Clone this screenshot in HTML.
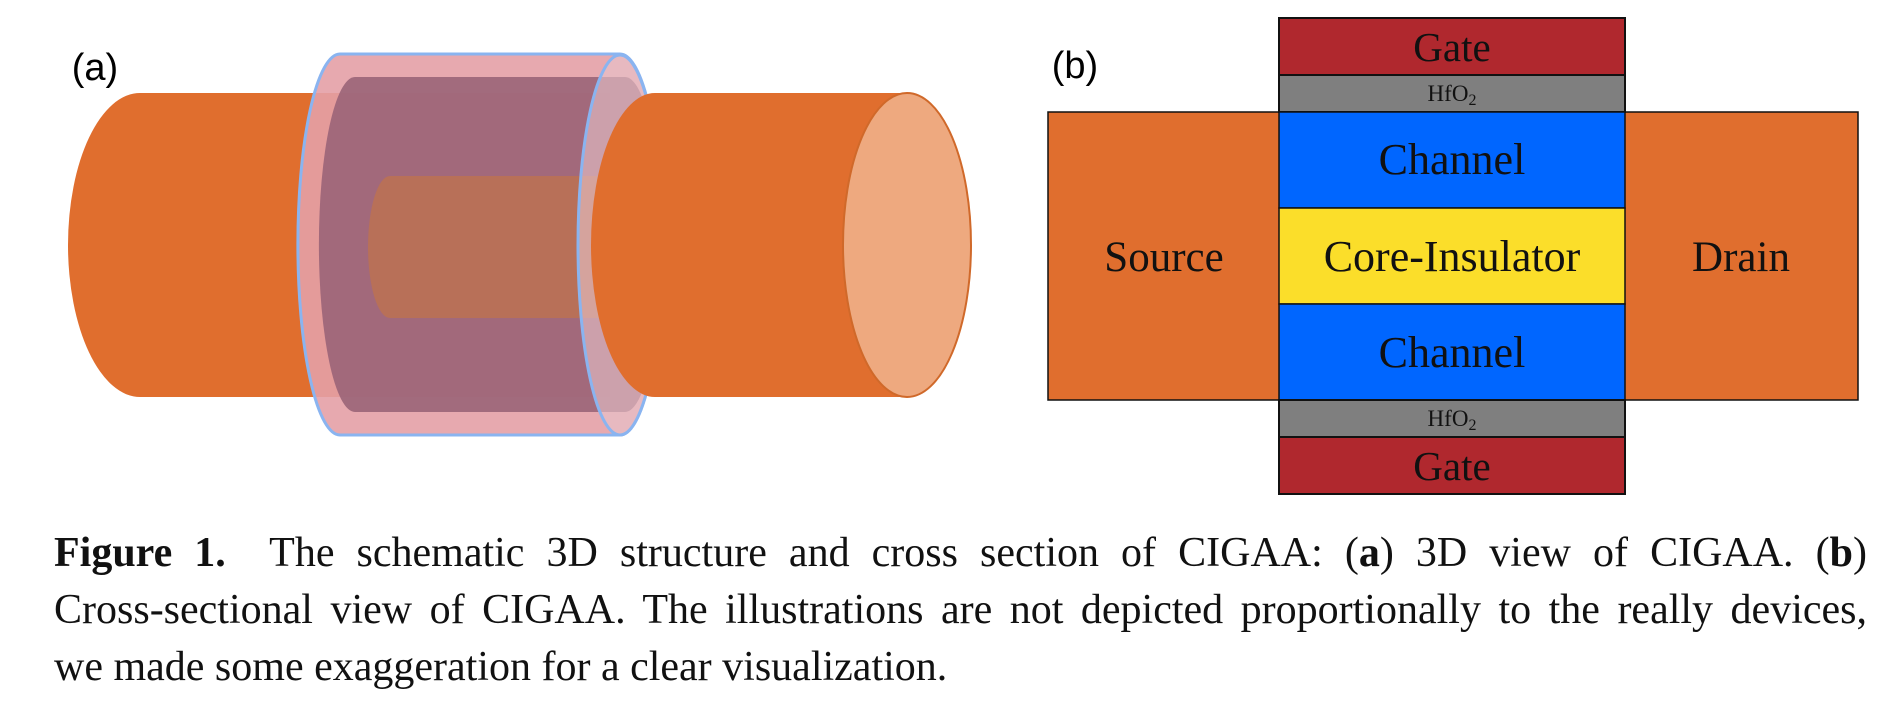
<!DOCTYPE html>
<html><head><meta charset="utf-8"><style>
body{margin:0;width:1885px;height:709px;background:#fff;overflow:hidden;position:relative;font-family:"Liberation Serif",serif}
.cap{position:absolute;left:54px;width:1813px;font-size:42px;color:#111;line-height:57px}
.j{text-align:justify;text-align-last:justify;white-space:nowrap}
</style></head><body>
<svg width="1885" height="520" style="position:absolute;left:0;top:0" font-family="Liberation Serif, serif">
<text x="95" y="80" font-size="38" font-family="Liberation Sans, sans-serif" text-anchor="middle">(a)</text>
<path d="M140 93 L610 93 L610 397 L140 397 A72 152 0 0 1 140 93 Z" fill="#e06e2e"/>
<path d="M340 54 L620 54 A42 190 0 0 1 620 435 L340 435 A42 190 0 0 1 340 54 Z" fill="#e4a0a6" fill-opacity="0.9" stroke="#8ab4f0" stroke-width="3"/>
<path d="M355 77 L625 77 A36 167 0 0 1 625 412 L355 412 A36 167 0 0 1 355 77 Z" fill="#9a6478" fill-opacity="0.9"/>
<path d="M390 176 L610 176 L610 318 L390 318 A22 71 0 0 1 390 176 Z" fill="#b87058"/>
<ellipse cx="620" cy="245" rx="42" ry="190" fill="#e8c4cc" fill-opacity="0.6" stroke="#8ab4f0" stroke-width="3"/>
<path d="M655 93 L907 93 L907 397 L655 397 A64 152 0 0 1 655 93 Z" fill="#e06e2e"/>
<ellipse cx="907" cy="245" rx="64" ry="152" fill="#eea97f" stroke="#d0692a" stroke-width="2"/>
<text x="1075" y="78" font-size="38" font-family="Liberation Sans, sans-serif" text-anchor="middle">(b)</text>
<rect x="1048" y="112" width="810" height="288" fill="#e06e2e" stroke="#111" stroke-width="1.5"/>
<rect x="1279" y="18" width="346" height="57" fill="#b0282e" stroke="#111" stroke-width="2"/>
<rect x="1279" y="75" width="346" height="37" fill="#7f7f7f" stroke="#111" stroke-width="2"/>
<rect x="1279" y="112" width="346" height="96" fill="#0066ff" stroke="#111" stroke-width="1.5"/>
<rect x="1279" y="208" width="346" height="96" fill="#fbde2a" stroke="#111" stroke-width="1.5"/>
<rect x="1279" y="304" width="346" height="96" fill="#0066ff" stroke="#111" stroke-width="1.5"/>
<rect x="1279" y="400" width="346" height="37" fill="#7f7f7f" stroke="#111" stroke-width="2"/>
<rect x="1279" y="437" width="346" height="57" fill="#b0282e" stroke="#111" stroke-width="2"/>
<g text-anchor="middle" fill="#111">
<text x="1452" y="61" font-size="41">Gate</text>
<text x="1452" y="101" font-size="23">HfO<tspan font-size="16" dy="4">2</tspan></text>
<text x="1452" y="174" font-size="44">Channel</text>
<text x="1452" y="271" font-size="44">Core-Insulator</text>
<text x="1452" y="367" font-size="44">Channel</text>
<text x="1452" y="426" font-size="23">HfO<tspan font-size="16" dy="4">2</tspan></text>
<text x="1452" y="480" font-size="41">Gate</text>
<text x="1164" y="271" font-size="43">Source</text>
<text x="1741" y="271" font-size="43">Drain</text>
</g>
</svg>
<div class="cap" style="top:525px">
<div class="j"><b>Figure 1.</b>&nbsp; The schematic 3D structure and cross section of CIGAA: (<b>a</b>) 3D view of CIGAA. (<b>b</b>)</div>
<div class="j">Cross-sectional view of CIGAA. The illustrations are not depicted proportionally to the really devices,</div>
<div>we made some exaggeration for a clear visualization.</div>
</div>
</body></html>
